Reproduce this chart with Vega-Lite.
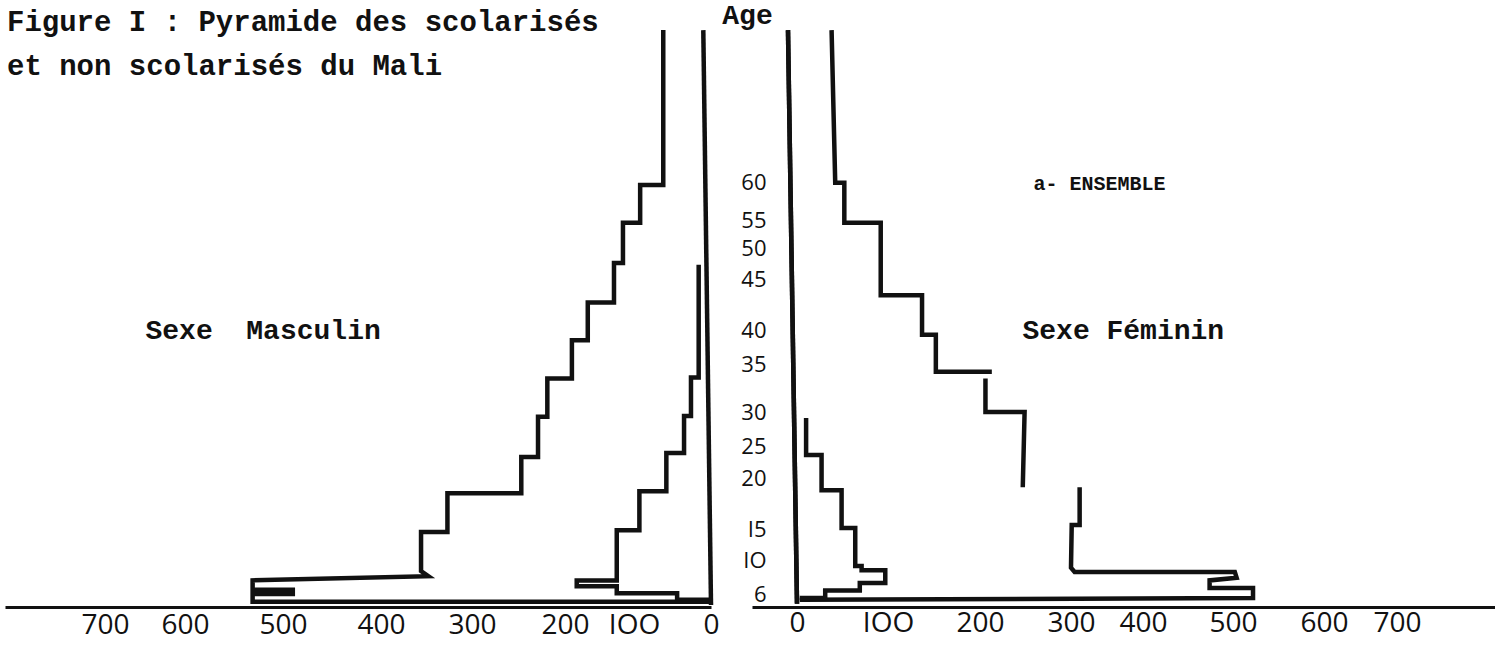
{
  "$schema": "https://vega.github.io/schema/vega-lite/v6.json",
  "width": 1495,
  "height": 607,
  "autosize": {"type": "none"},
  "padding": {"left": 0, "top": 0, "right": 0, "bottom": 45},
  "background": "white",
  "config": {"view": {"stroke": null}},
  "title": {
    "text": ["\u00a0Figure I : Pyramide des scolarisés", "et non scolarisés du Mali"],
    "anchor": "start", "frame": "group", "orient": "top",
    "font": "Liberation Mono", "fontSize": 29, "fontWeight": "bold", "color": "#111",
    "lineHeight": 44, "baseline": "bottom", "offset": 0, "dx": 7, "dy": 110
  },
  "data": {"values": [
    {"side":"M","seg":"M0","ord":1,"value":10,"age":81.7},
    {"side":"M","seg":"M0","ord":2,"value":0,"age":4.3},
    {"side":"M","seg":"M1","ord":1,"value":62,"age":81.7},
    {"side":"M","seg":"M1","ord":2,"value":62,"age":59.6},
    {"side":"M","seg":"M1","ord":3,"value":92,"age":59.6},
    {"side":"M","seg":"M1","ord":4,"value":92,"age":54.5},
    {"side":"M","seg":"M1","ord":5,"value":116,"age":54.5},
    {"side":"M","seg":"M1","ord":6,"value":116,"age":47.6},
    {"side":"M","seg":"M1","ord":7,"value":129,"age":47.6},
    {"side":"M","seg":"M1","ord":8,"value":129,"age":42.7},
    {"side":"M","seg":"M1","ord":9,"value":167,"age":42.7},
    {"side":"M","seg":"M1","ord":10,"value":167,"age":38.5},
    {"side":"M","seg":"M1","ord":11,"value":190,"age":38.5},
    {"side":"M","seg":"M1","ord":12,"value":190,"age":33.5},
    {"side":"M","seg":"M1","ord":13,"value":219,"age":33.5},
    {"side":"M","seg":"M1","ord":14,"value":219,"age":29.3},
    {"side":"M","seg":"M1","ord":15,"value":229,"age":29.3},
    {"side":"M","seg":"M1","ord":16,"value":229,"age":23.3},
    {"side":"M","seg":"M1","ord":17,"value":247,"age":23.3},
    {"side":"M","seg":"M1","ord":18,"value":247,"age":18.5},
    {"side":"M","seg":"M1","ord":19,"value":327,"age":18.5},
    {"side":"M","seg":"M1","ord":20,"value":327,"age":14.5},
    {"side":"M","seg":"M1","ord":21,"value":356,"age":14.5},
    {"side":"M","seg":"M1","ord":22,"value":356,"age":8.7},
    {"side":"M","seg":"M1","ord":23,"value":348,"age":8.1},
    {"side":"M","seg":"M1","ord":24,"value":531,"age":7.6},
    {"side":"M","seg":"M1","ord":25,"value":531,"age":6.5},
    {"side":"M","seg":"M1","ord":26,"value":490,"age":6.5},
    {"side":"M","seg":"M1","ord":27,"value":490,"age":6.0},
    {"side":"M","seg":"M1","ord":28,"value":531,"age":6.0},
    {"side":"M","seg":"M1","ord":29,"value":531,"age":4.8},
    {"side":"M","seg":"M1","ord":30,"value":0,"age":4.8},
    {"side":"M","seg":"M2","ord":1,"value":16,"age":47.3},
    {"side":"M","seg":"M2","ord":2,"value":16,"age":33.6},
    {"side":"M","seg":"M2","ord":3,"value":26,"age":33.6},
    {"side":"M","seg":"M2","ord":4,"value":26,"age":29.4},
    {"side":"M","seg":"M2","ord":5,"value":35,"age":29.4},
    {"side":"M","seg":"M2","ord":6,"value":35,"age":23.9},
    {"side":"M","seg":"M2","ord":7,"value":58,"age":23.9},
    {"side":"M","seg":"M2","ord":8,"value":58,"age":18.7},
    {"side":"M","seg":"M2","ord":9,"value":93,"age":18.7},
    {"side":"M","seg":"M2","ord":10,"value":93,"age":14.8},
    {"side":"M","seg":"M2","ord":11,"value":125,"age":14.8},
    {"side":"M","seg":"M2","ord":12,"value":125,"age":7.6},
    {"side":"M","seg":"M2","ord":13,"value":183,"age":7.6},
    {"side":"M","seg":"M2","ord":14,"value":183,"age":6.9},
    {"side":"M","seg":"M2","ord":15,"value":125,"age":6.9},
    {"side":"M","seg":"M2","ord":16,"value":125,"age":6.1},
    {"side":"M","seg":"M2","ord":17,"value":44,"age":6.1},
    {"side":"M","seg":"M2","ord":18,"value":44,"age":5.1},
    {"side":"M","seg":"M2","ord":19,"value":0,"age":5.1},
    {"side":"F","seg":"F0","ord":1,"value":-10,"age":81.7},
    {"side":"F","seg":"F0","ord":2,"value":0,"age":4.5},
    {"side":"F","seg":"F1","ord":1,"value":38,"age":81.7},
    {"side":"F","seg":"F1","ord":2,"value":42,"age":59.9},
    {"side":"F","seg":"F1","ord":3,"value":52,"age":59.9},
    {"side":"F","seg":"F1","ord":4,"value":52,"age":54.5},
    {"side":"F","seg":"F1","ord":5,"value":92,"age":54.5},
    {"side":"F","seg":"F1","ord":6,"value":92,"age":43.4},
    {"side":"F","seg":"F1","ord":7,"value":137,"age":43.4},
    {"side":"F","seg":"F1","ord":8,"value":137,"age":39.3},
    {"side":"F","seg":"F1","ord":9,"value":152,"age":39.3},
    {"side":"F","seg":"F1","ord":10,"value":152,"age":34.2},
    {"side":"F","seg":"F1","ord":11,"value":213,"age":34.2},
    {"side":"F","seg":"F2","ord":1,"value":206,"age":33.5},
    {"side":"F","seg":"F2","ord":2,"value":206,"age":30},
    {"side":"F","seg":"F2","ord":3,"value":249,"age":30},
    {"side":"F","seg":"F2","ord":4,"value":247,"age":19.1},
    {"side":"F","seg":"F3","ord":1,"value":312,"age":19.1},
    {"side":"F","seg":"F3","ord":2,"value":312,"age":15.4},
    {"side":"F","seg":"F3","ord":3,"value":301,"age":15.4},
    {"side":"F","seg":"F3","ord":4,"value":300,"age":9.1},
    {"side":"F","seg":"F3","ord":5,"value":305,"age":8.6},
    {"side":"F","seg":"F3","ord":6,"value":502,"age":8.6},
    {"side":"F","seg":"F3","ord":7,"value":504,"age":7.9},
    {"side":"F","seg":"F3","ord":8,"value":474,"age":7.6},
    {"side":"F","seg":"F3","ord":9,"value":474,"age":6.7},
    {"side":"F","seg":"F3","ord":10,"value":522,"age":6.7},
    {"side":"F","seg":"F3","ord":11,"value":522,"age":5.4},
    {"side":"F","seg":"F3","ord":12,"value":3,"age":5.1},
    {"side":"F","seg":"F4","ord":1,"value":10,"age":29.1},
    {"side":"F","seg":"F4","ord":2,"value":10,"age":23.6},
    {"side":"F","seg":"F4","ord":3,"value":27,"age":23.6},
    {"side":"F","seg":"F4","ord":4,"value":27,"age":18.8},
    {"side":"F","seg":"F4","ord":5,"value":49,"age":18.8},
    {"side":"F","seg":"F4","ord":6,"value":49,"age":15.1},
    {"side":"F","seg":"F4","ord":7,"value":64,"age":15.1},
    {"side":"F","seg":"F4","ord":8,"value":64,"age":9.3},
    {"side":"F","seg":"F4","ord":9,"value":71,"age":9.3},
    {"side":"F","seg":"F4","ord":10,"value":71,"age":8.8},
    {"side":"F","seg":"F4","ord":11,"value":97,"age":8.8},
    {"side":"F","seg":"F4","ord":12,"value":97,"age":7.3},
    {"side":"F","seg":"F4","ord":13,"value":69,"age":7.3},
    {"side":"F","seg":"F4","ord":14,"value":69,"age":6.4},
    {"side":"F","seg":"F4","ord":15,"value":31,"age":6.4},
    {"side":"F","seg":"F4","ord":16,"value":31,"age":5.4},
    {"side":"F","seg":"F4","ord":17,"value":3,"age":5.4}
  ]},
  "encoding": {
    "y": {
      "field": "age", "type": "quantitative",
      "scale": {"type": "linear", "domain": [4,6,10,15,20,25,30,35,40,45,50,55,60,86], "range": [607,594,560,529,478,446,412,364,330,279,248,220,182,0], "nice": false, "zero": false},
      "axis": {
        "orient": "left", "offset": -770,
        "values": [6,10,15,20,25,30,35,40,45,50,55,60],
        "labelExpr": "datum.value == 10 ? 'IO' : datum.value == 15 ? 'I5' : datum.label",
        "domain": false, "ticks": false, "tickSize": 0, "grid": false,
        "labelPadding": 4, "labelFont": "Open Sans", "labelFontSize": 22, "labelColor": "#111",
        "labelBaseline": "middle", "labelAlign": "right", "labelOverlap": false, "labelFlush": false, "labelBound": false,
        "title": "Age", "titleAngle": 0, "titleX": -23, "titleY": 15, "titleAlign": "center", "titleBaseline": "middle",
        "titleFont": "Liberation Mono", "titleFontSize": 28, "titleFontWeight": "bold", "titleColor": "#111"
      }
    },
    "x": {"field": "value", "type": "quantitative"},
    "detail": {"field": "seg"},
    "order": {"field": "ord", "type": "quantitative"}
  },
  "layer": [
    {
      "transform": [{"filter": "datum.side === 'M'"}],
      "mark": {"type": "line", "color": "#111", "strokeWidth": 4.5, "strokeJoin": "miter"},
      "encoding": {
        "x": {
          "field": "value", "type": "quantitative",
          "scale": {"type": "linear", "domain": [0,100,200,300,400,500,600,700,800], "range": [711,634,565,472,381,283,185,105,5], "nice": false, "zero": false},
          "axis": {
            "orient": "bottom", "values": [0,100,200,300,400,500,600,700],
            "labelExpr": "datum.value == 100 ? 'IOO' : datum.label",
            "domain": true, "domainColor": "#111", "domainWidth": 3,
            "ticks": false, "tickSize": 0, "grid": false,
            "labelPadding": 18, "labelFont": "Open Sans", "labelFontSize": 28, "labelColor": "#111",
            "labelBaseline": "middle", "labelAlign": "center", "labelOverlap": false, "labelFlush": false, "labelBound": false,
            "title": "Sexe\u00a0 Masculin", "titleAngle": 0, "titleX": 145, "titleY": -277, "titleAlign": "left", "titleBaseline": "middle",
            "titleFont": "Liberation Mono", "titleFontSize": 28, "titleFontWeight": "bold", "titleColor": "#111"
          }
        }
      }
    },
    {
      "transform": [{"filter": "datum.side === 'F'"}],
      "mark": {"type": "line", "color": "#111", "strokeWidth": 4.5, "strokeJoin": "miter"},
      "encoding": {
        "x": {
          "field": "value", "type": "quantitative",
          "scale": {"type": "linear", "domain": [-50,0,100,200,300,400,500,600,700,820], "range": [752,797,888,980,1071,1143,1233,1324,1397,1495], "nice": false, "zero": false},
          "axis": {
            "orient": "bottom", "values": [0,100,200,300,400,500,600,700],
            "labelExpr": "datum.value == 100 ? 'IOO' : datum.label",
            "domain": true, "domainColor": "#111", "domainWidth": 3,
            "ticks": false, "tickSize": 0, "grid": false,
            "labelPadding": 16, "labelFont": "Open Sans", "labelFontSize": 28, "labelColor": "#111",
            "labelBaseline": "middle", "labelAlign": "center", "labelOverlap": false, "labelFlush": false, "labelBound": false,
            "title": "Sexe Féminin", "titleAngle": 0, "titleX": 1022, "titleY": -277, "titleAlign": "left", "titleBaseline": "middle",
            "titleFont": "Liberation Mono", "titleFontSize": 28, "titleFontWeight": "bold", "titleColor": "#111"
          }
        }
      }
    },
    {
      "transform": [{"filter": "datum.seg === 'F0'"}],
      "mark": {"type": "line", "color": "#111", "strokeWidth": 4.5, "strokeJoin": "miter"},
      "encoding": {
        "x": {
          "field": "value", "type": "quantitative",
          "scale": {"type": "linear", "domain": [-50,0,100,200,300,400,500,600,700,820], "range": [752,797,888,980,1071,1143,1233,1324,1397,1495], "nice": false, "zero": false},
          "axis": {
            "orient": "top", "labels": false, "domain": false, "ticks": false, "grid": false,
            "title": "a- ENSEMBLE", "titleAngle": 0, "titleX": 1033, "titleY": 183, "titleAlign": "left", "titleBaseline": "middle",
            "titleFont": "Liberation Mono", "titleFontSize": 20, "titleFontWeight": "bold", "titleColor": "#111"
          }
        }
      }
    }
  ],
  "resolve": {"scale": {"x": "independent"}, "axis": {"x": "independent"}}
}
